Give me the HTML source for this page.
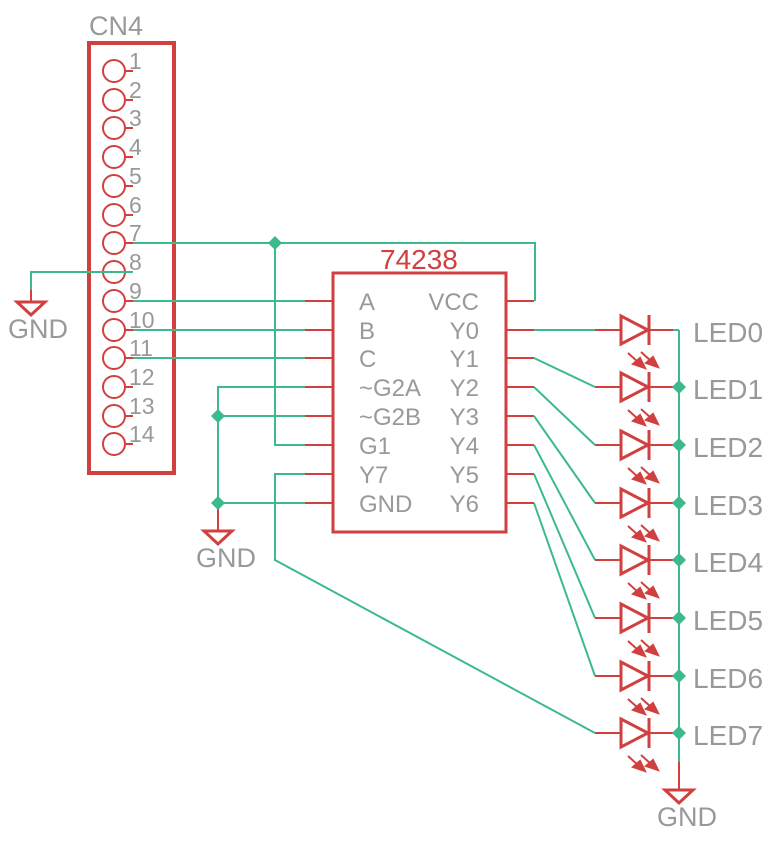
<!DOCTYPE html>
<html><head><style>html,body{margin:0;padding:0;background:#fff}svg{display:block}text{font-family:"Liberation Sans",sans-serif;fill:#999}</style></head>
<body>
<svg width="774" height="847" viewBox="0 0 774 847" xmlns="http://www.w3.org/2000/svg">
<defs>
<g id="arr" stroke="#d13f3f" stroke-width="2" fill="#d13f3f">
<line x1="628" y1="23" x2="638" y2="32"/><polygon points="645,38 633,34 640,28"/>
<line x1="641" y1="22" x2="651" y2="31"/><polygon points="658,37 646,33 653,27"/>
</g>
<g id="led">
<line x1="595" y1="0" x2="620" y2="0" stroke="#d13f3f" stroke-width="2"/>
<polygon points="621,-14 621,14 648,0" fill="none" stroke="#d13f3f" stroke-width="3"/>
<line x1="649" y1="-15" x2="649" y2="15" stroke="#d13f3f" stroke-width="3"/>
<line x1="649" y1="0" x2="673" y2="0" stroke="#d13f3f" stroke-width="2"/>
<line x1="673" y1="0" x2="679" y2="0" stroke="#3dba8c" stroke-width="2"/>
</g>
<g id="pin"><circle cx="114" cy="0" r="11" fill="none" stroke="#d13f3f" stroke-width="2"/><line x1="125" y1="0" x2="133" y2="0" stroke="#d13f3f" stroke-width="2"/></g>
</defs>

<rect x="89" y="43" width="85" height="430" fill="none" stroke="#d13f3f" stroke-width="4"/>
<text x="89" y="35" font-size="27">CN4</text>
<g>
<use href="#pin" y="71"/><use href="#pin" y="100"/><use href="#pin" y="128"/><use href="#pin" y="157"/><use href="#pin" y="186"/><use href="#pin" y="215"/><use href="#pin" y="243"/><use href="#pin" y="272"/><use href="#pin" y="301"/><use href="#pin" y="330"/><use href="#pin" y="358"/><use href="#pin" y="387"/><use href="#pin" y="416"/><use href="#pin" y="444"/>
</g>
<g font-size="23">
<text x="129" y="69">1</text><text x="129" y="98">2</text><text x="129" y="126">3</text><text x="129" y="155">4</text><text x="129" y="184">5</text><text x="129" y="213">6</text><text x="129" y="241">7</text><text x="129" y="270">8</text><text x="129" y="299">9</text><text x="129" y="328">10</text><text x="129" y="356">11</text><text x="129" y="385">12</text><text x="129" y="414">13</text><text x="129" y="442">14</text>
</g>

<g stroke="#3dba8c" stroke-width="2" fill="none">
<polyline points="133,243 535,243 535,300 534,300"/>
<polyline points="275,243 275,445 305,445"/>
<polyline points="133,272 31,272 31,290"/>
<line x1="133" y1="301" x2="305" y2="301"/>
<line x1="133" y1="330" x2="305" y2="330"/>
<line x1="133" y1="358" x2="305" y2="358"/>
<polyline points="305,387 218,387 218,520"/>
<line x1="218" y1="416" x2="305" y2="416"/>
<line x1="218" y1="503" x2="305" y2="503"/>
<polyline points="305,474 275,474 275,560 595,733"/>
<line x1="534" y1="330" x2="595" y2="330"/>
<line x1="534" y1="358" x2="595" y2="387"/>
<line x1="534" y1="387" x2="595" y2="445"/>
<line x1="534" y1="416" x2="595" y2="503"/>
<line x1="534" y1="445" x2="595" y2="560"/>
<line x1="534" y1="474" x2="595" y2="618"/>
<line x1="534" y1="503" x2="595" y2="676"/>
<line x1="679" y1="330" x2="679" y2="762"/>
</g>

<g stroke="#d13f3f" stroke-width="2"><line x1="31" y1="290" x2="31" y2="302"/><line x1="218" y1="503" x2="218" y2="531"/><line x1="679" y1="762" x2="679" y2="790"/></g>
<polygon points="17,302 45,302 31,315" fill="none" stroke="#d13f3f" stroke-width="3"/>
<polygon points="204,531 232,531 218,544" fill="none" stroke="#d13f3f" stroke-width="3"/>
<polygon points="665,790 693,790 679,803" fill="none" stroke="#d13f3f" stroke-width="3"/>
<text x="8" y="338" font-size="27">GND</text>
<text x="196" y="567" font-size="27">GND</text>
<text x="657" y="826" font-size="27">GND</text>

<rect x="333" y="273" width="173" height="259" fill="none" stroke="#d13f3f" stroke-width="3"/>
<text x="380" y="269" font-size="28" style="fill:#d13f3f">74238</text>
<g stroke="#d13f3f" stroke-width="2">
<line x1="305" y1="301" x2="333" y2="301"/><line x1="305" y1="330" x2="333" y2="330"/><line x1="305" y1="358" x2="333" y2="358"/><line x1="305" y1="387" x2="333" y2="387"/><line x1="305" y1="416" x2="333" y2="416"/><line x1="305" y1="445" x2="333" y2="445"/><line x1="305" y1="474" x2="333" y2="474"/><line x1="305" y1="503" x2="333" y2="503"/>
<line x1="506" y1="301" x2="534" y2="301"/><line x1="506" y1="330" x2="534" y2="330"/><line x1="506" y1="358" x2="534" y2="358"/><line x1="506" y1="387" x2="534" y2="387"/><line x1="506" y1="416" x2="534" y2="416"/><line x1="506" y1="445" x2="534" y2="445"/><line x1="506" y1="474" x2="534" y2="474"/><line x1="506" y1="503" x2="534" y2="503"/>
</g>
<g font-size="24">
<text x="359" y="310">A</text><text x="359" y="339">B</text><text x="359" y="367">C</text><text x="359" y="396">~G2A</text><text x="359" y="425">~G2B</text><text x="359" y="454">G1</text><text x="359" y="483">Y7</text><text x="359" y="512">GND</text>
<g text-anchor="end"><text x="479" y="310">VCC</text><text x="479" y="339">Y0</text><text x="479" y="367">Y1</text><text x="479" y="396">Y2</text><text x="479" y="425">Y3</text><text x="479" y="454">Y4</text><text x="479" y="483">Y5</text><text x="479" y="512">Y6</text></g>
</g>

<use href="#led" y="330"/><use href="#led" y="387"/><use href="#led" y="445"/><use href="#led" y="503"/><use href="#led" y="560"/><use href="#led" y="618"/><use href="#led" y="676"/><use href="#led" y="733"/>
<use href="#arr" y="330"/><use href="#arr" y="387"/><use href="#arr" y="445"/><use href="#arr" y="503"/><use href="#arr" y="560"/><use href="#arr" y="618"/><use href="#arr" y="676"/><use href="#arr" y="733"/>
<g font-size="28">
<text x="693" y="342">LED0</text><text x="693" y="399">LED1</text><text x="693" y="457">LED2</text><text x="693" y="515">LED3</text><text x="693" y="572">LED4</text><text x="693" y="630">LED5</text><text x="693" y="688">LED6</text><text x="693" y="745">LED7</text>
</g>

<g fill="#3dba8c">
<polygon points="275,236 282,243 275,250 268,243"/>
<polygon points="218,409 225,416 218,423 211,416"/>
<polygon points="218,496 225,503 218,510 211,503"/>
<polygon points="679,380 686,387 679,394 672,387"/>
<polygon points="679,438 686,445 679,452 672,445"/>
<polygon points="679,496 686,503 679,510 672,503"/>
<polygon points="679,553 686,560 679,567 672,560"/>
<polygon points="679,611 686,618 679,625 672,618"/>
<polygon points="679,669 686,676 679,683 672,676"/>
<polygon points="679,726 686,733 679,740 672,733"/>
</g>
</svg>
</body></html>
